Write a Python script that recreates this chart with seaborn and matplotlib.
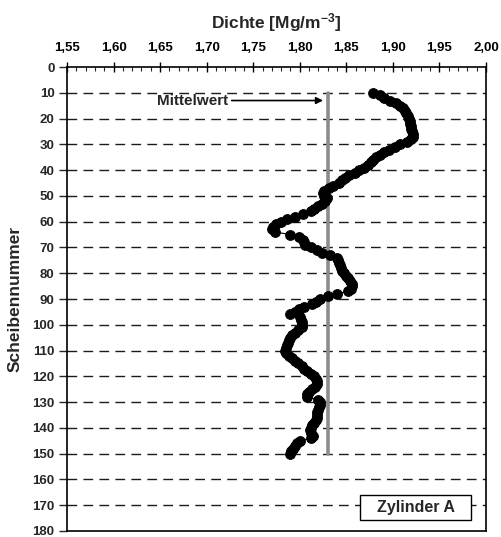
import numpy as np
import pandas as pd
import matplotlib
matplotlib.use("Agg")
import matplotlib.pyplot as plt
from matplotlib.ticker import MultipleLocator, FuncFormatter
from matplotlib.patches import Rectangle
import seaborn as sns

# Slice numbers 10..150 and measured dry density per slice [Mg/m^3]
scheibe = list(range(10, 151))
dichte = [
    1.879, 1.886, 1.890, 1.897, 1.903, 1.908, 1.911, 1.913, 1.914, 1.916,  # 10-19
    1.917, 1.918, 1.918, 1.919, 1.920, 1.921, 1.922, 1.922, 1.920, 1.915,  # 20-29
    1.908, 1.902, 1.896, 1.890, 1.886, 1.882, 1.879, 1.876, 1.873, 1.869,  # 30-39
    1.864, 1.859, 1.853, 1.849, 1.845, 1.842, 1.836, 1.831, 1.826, 1.825,  # 40-49
    1.826, 1.829, 1.827, 1.824, 1.820, 1.815, 1.812, 1.804, 1.795, 1.786,  # 50-59
    1.780, 1.775, 1.771, 1.770, 1.773, 1.790, 1.799, 1.803, 1.805, 1.806,  # 60-69
    1.812, 1.818, 1.824, 1.833, 1.840, 1.841, 1.842, 1.843, 1.844, 1.845,  # 70-79
    1.847, 1.850, 1.852, 1.854, 1.856, 1.856, 1.855, 1.852, 1.840, 1.830,  # 80-89
    1.822, 1.817, 1.813, 1.805, 1.799, 1.795, 1.789, 1.800, 1.801, 1.802,  # 90-99
    1.802, 1.802, 1.798, 1.795, 1.792, 1.790, 1.788, 1.787, 1.786, 1.785,  # 100-109
    1.784, 1.785, 1.788, 1.792, 1.795, 1.798, 1.802, 1.805, 1.808, 1.812,  # 110-119
    1.815, 1.817, 1.818, 1.818, 1.816, 1.813, 1.810, 1.808, 1.808, 1.820,  # 120-129
    1.822, 1.822, 1.821, 1.820, 1.819, 1.818, 1.818, 1.817, 1.815, 1.813,  # 130-139
    1.812, 1.811, 1.812, 1.814, 1.812, 1.800, 1.797, 1.795, 1.793, 1.791,  # 140-149
    1.789,                                                                 # 150
]

# Mean density line over the measured slice range
mittelwert = 1.83
mittel_bereich = [10, 150]

x_ticks = [1.55, 1.60, 1.65, 1.70, 1.75, 1.80, 1.85, 1.90, 1.95, 2.00]
y_ticks = list(range(0, 181, 10))

sns.set_theme(style="white")
plt.rcParams["font.family"] = ["Liberation Sans", "DejaVu Sans"]
plt.rcParams["font.weight"] = "bold"
plt.rcParams["mathtext.fontset"] = "custom"
plt.rcParams["mathtext.rm"] = "Liberation Sans:bold"
plt.rcParams["mathtext.bf"] = "Liberation Sans:bold"
plt.rcParams["mathtext.default"] = "bf"

df = pd.DataFrame({"Dichte": dichte, "Scheibe": scheibe})

fig = plt.figure(figsize=(5.01, 5.37), dpi=100)
ax = fig.add_axes([0.1337, 0.0112, 0.8363, 0.864])

# horizontal dashed grid
for yv in y_ticks[1:-1]:
    ax.axhline(yv, color="#1a1a1a", lw=1.0, linestyle=(0, (7, 4.5)), zorder=0)

# mean line
ax.plot([mittelwert, mittelwert], mittel_bereich, color="#8c8c8c", lw=2.6, zorder=1)

sns.lineplot(data=df, x="Dichte", y="Scheibe", orient="y", estimator=None, sort=False,
             color="black", lw=0.8, marker="o", markersize=7,
             markeredgecolor="black", markerfacecolor="black", ax=ax, zorder=3)

ax.set_xlim(1.55, 2.00)
ax.set_ylim(180, 0)

ax.xaxis.tick_top()
ax.xaxis.set_label_position("top")
ax.set_xticks(x_ticks)
ax.xaxis.set_minor_locator(MultipleLocator(0.01))
ax.xaxis.set_major_formatter(FuncFormatter(lambda v, p: f"{v:.2f}".replace(".", ",")))
ax.set_yticks(y_ticks)

ax.tick_params(axis="x", which="major", direction="inout", length=7, width=1,
               labelsize=9.5, pad=6, colors="black", top=True, bottom=False)
ax.tick_params(axis="x", which="minor", direction="in", length=3, width=0.8,
               top=True, bottom=False)
ax.tick_params(axis="y", which="major", direction="out", length=6, width=1,
               labelsize=9.5, pad=3, left=True)
for lab in ax.get_xticklabels() + ax.get_yticklabels():
    lab.set_fontweight("bold")

ax.set_xlabel("Dichte [Mg/m$^{-3}$]", fontsize=12.5, fontweight="bold", labelpad=10)
ax.set_ylabel("Scheibennummer", fontsize=12.5, fontweight="bold", labelpad=7)

for sp in ax.spines.values():
    sp.set_color("black")
    sp.set_linewidth(1.2)

ax.annotate("Mittelwert", xy=(mittelwert - 0.005, 13), xytext=(1.647, 13),
            fontsize=11, fontweight="bold", va="center", ha="left",
            arrowprops=dict(arrowstyle="-|>", color="black", lw=1.2,
                            mutation_scale=10, shrinkA=0, shrinkB=0))

# label box in the lower right corner
ax.add_patch(Rectangle((1.865, 166.0), 0.119, 9.7, facecolor="white",
                       edgecolor="black", lw=1, zorder=4))
ax.text(1.9245, 171, "Zylinder A", fontsize=11.5, fontweight="bold",
        ha="center", va="center", zorder=5)

fig.savefig("out.png", dpi=100)
